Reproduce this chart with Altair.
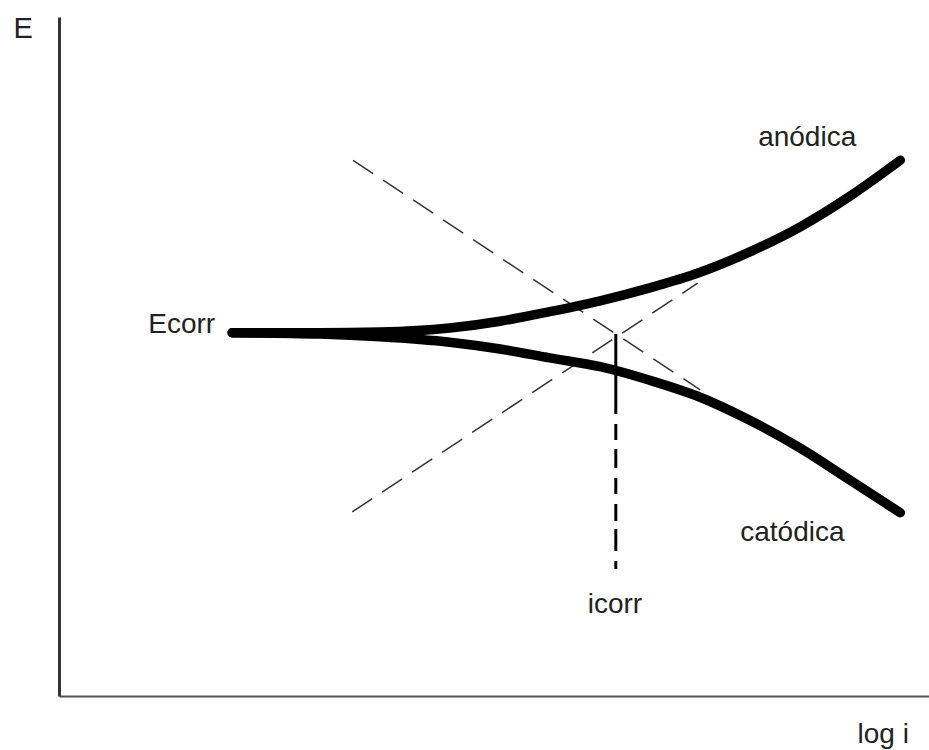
import altair as alt
import pandas as pd

# Polarisation curve: log i vs E (arbitrary units)
log_i = [1.99, 3.0, 3.69, 4.49, 5.07, 5.64, 6.22, 6.79, 7.37, 7.94, 8.52, 9.09, 9.67]
e_anodic = [5.35, 5.35, 5.36, 5.42, 5.52, 5.66, 5.82, 6.01, 6.24, 6.54, 6.91, 7.36, 7.89]
e_cathodic = [5.35, 5.33, 5.29, 5.21, 5.11, 4.98, 4.85, 4.65, 4.40, 4.06, 3.65, 3.18, 2.70]

# Tafel extrapolations (straight lines)
tafel_anodic_x = [3.37, 7.34]
tafel_anodic_e = [2.71, 6.08]
tafel_cathodic_x = [3.38, 7.37]
tafel_cathodic_e = [7.89, 4.51]

# Corrosion point and the drop line to the icorr label
icorr_x = 6.4
ecorr_e = 5.33
drop_floor_e = 1.87

# Annotations
label_text = ["Ecorr", "anódica", "catódica", "icorr"]
label_x = [1.41, 8.60, 8.43, 6.39]
label_y = [5.46, 8.22, 2.40, 1.34]

FONT = "Liberation Sans"
INK = "#222222"

branches = pd.DataFrame({
    "log_i": log_i * 2,
    "E": e_anodic + e_cathodic,
    "branch": ["anodic"] * len(log_i) + ["cathodic"] * len(log_i),
})
tafel = pd.DataFrame({
    "log_i": tafel_anodic_x + tafel_cathodic_x,
    "E": tafel_anodic_e + tafel_cathodic_e,
    "branch": ["anodic"] * 2 + ["cathodic"] * 2,
})
drop = pd.DataFrame({"log_i": [icorr_x, icorr_x], "E": [ecorr_e, drop_floor_e]})
labels = pd.DataFrame({"text": label_text, "log_i": label_x, "E": label_y})

x_scale = alt.Scale(domain=[0, 10], nice=False, zero=False)
y_scale = alt.Scale(domain=[0, 10], nice=False, zero=False)

x_axis = alt.Axis(
    title="log i", ticks=False, labels=False, grid=False,
    domainColor="#555555", domainWidth=2,
    titleX=798, titleY=46, titleAlign="left", titleBaseline="alphabetic",
    titleFont=FONT, titleFontSize=28, titleFontWeight="normal", titleColor=INK,
)
y_axis = alt.Axis(
    title="E", titleAngle=0, ticks=False, labels=False, grid=False,
    domainColor="#333333", domainWidth=3,
    titleX=-46, titleY=-3, titleAlign="left", titleBaseline="top",
    titleFont=FONT, titleFontSize=29, titleFontWeight="normal", titleColor=INK,
)

x_enc = alt.X("log_i:Q", scale=x_scale, axis=x_axis)
y_enc = alt.Y("E:Q", scale=y_scale, axis=y_axis)

curves = alt.Chart(branches).mark_line(
    color="black", strokeWidth=9.5, strokeCap="round", interpolate="monotone"
).encode(x=x_enc, y=y_enc, detail="branch:N")

tafel_lines = alt.Chart(tafel).mark_line(
    color="#333333", strokeWidth=1.5, strokeDash=[24, 12]
).encode(x=x_enc, y=y_enc, detail="branch:N")

drop_line = alt.Chart(drop).mark_line(
    color="black", strokeWidth=3,
    strokeDash=[80, 10, 16, 9, 19, 10, 16, 10, 17, 8, 22, 10, 12, 40],
).encode(x=x_enc, y=y_enc)

text = alt.Chart(labels).mark_text(
    font=FONT, fontSize=28, color=INK, align="center", baseline="middle"
).encode(x=x_enc, y=y_enc, text="text:N")

chart = (
    alt.layer(tafel_lines, curves, drop_line, text)
    .properties(
        width=870, height=679,
        padding={"left": 59, "top": 17, "right": 0, "bottom": 54},
        autosize=alt.AutoSizeParams(type="none"),
        background="white",
    )
    .configure_view(stroke=None)
)

chart.save("out.html", embed_options={"renderer": "svg", "actions": False})
